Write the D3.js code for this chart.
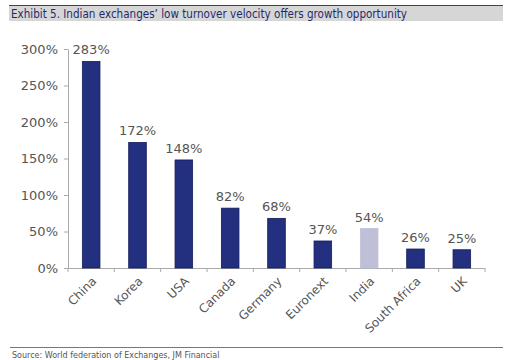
<!DOCTYPE html>
<html><head><meta charset="utf-8">
<script src="https://cdn.jsdelivr.net/npm/d3@7"></script>
<style>body{margin:0;background:#fff;} svg{display:block;}</style>
</head><body>
<script>
const title = "Exhibit 5. Indian exchanges’ low turnover velocity offers growth opportunity";
const source = "Source: World federation of Exchanges, JM Financial";
const categories = ["China","Korea","USA","Canada","Germany","Euronext","India","South Africa","UK"];
const values = [283,172,148,82,68,37,54,26,25];
const highlight = ["India"];
const yTicks = [0,50,100,150,200,250,300];

const W=517,H=360;
const svg=d3.select("body").append("svg").attr("width",W).attr("height",H);
const font="Tahoma, 'DejaVu Sans', sans-serif";

// title bar
svg.append("rect").attr("x",9).attr("y",5).attr("width",494).attr("height",16).attr("fill","#d6d6d6");
svg.append("line").attr("x1",9).attr("x2",503).attr("y1",5.5).attr("y2",5.5).attr("stroke","#3a3f7a").attr("stroke-width",1);
svg.append("text").attr("x",11).attr("y",17.5).text(title)
  .attr("textLength",396).attr("lengthAdjust","spacingAndGlyphs")
  .attr("font-family",font).attr("font-size",12).attr("fill","#1f2a6e");

const x=d3.scaleBand().domain(categories).range([68,485]).paddingInner(0.62).paddingOuter(0.31);
const y=d3.scaleLinear().domain([0,300]).range([268,49]);

// y axis
const ya=svg.append("g").attr("transform","translate(68,0)")
  .call(d3.axisLeft(y).tickValues(yTicks).tickFormat(d=>d+"%").tickSize(4).tickSizeOuter(0));
ya.select(".domain").attr("stroke","#aaa");
ya.selectAll(".tick line").attr("stroke","#aaa");
ya.selectAll("text").attr("font-family",font).attr("font-size",13).attr("fill","#555").attr("x",-10);

// x axis with ticks at boundaries
svg.append("line").attr("x1",68).attr("x2",485).attr("y1",268.5).attr("y2",268.5).attr("stroke","#aaa");
const step=x.step();
const bounds=d3.range(categories.length+1).map(i=>68+i*step);
svg.selectAll(".xt").data(bounds).join("line").attr("x1",d=>d).attr("x2",d=>d)
  .attr("y1",268).attr("y2",272).attr("stroke","#aaa");

// bars
svg.selectAll(".bar").data(categories).join("rect")
  .attr("x",d=>x(d)).attr("width",x.bandwidth())
  .attr("y",(d,i)=>y(values[i])).attr("height",(d,i)=>y(0)-y(values[i]))
  .attr("fill",d=>highlight.includes(d)?"#bfc0d7":"#22307f")
  .attr("stroke",d=>highlight.includes(d)?"#bfc0d7":"#141d5a").attr("stroke-width",0.8);

// value labels
svg.selectAll(".vl").data(categories).join("text")
  .attr("x",d=>x(d)+x.bandwidth()/2).attr("y",(d,i)=>y(values[i])-7)
  .attr("text-anchor","middle").text((d,i)=>values[i]+"%")
  .attr("font-family",font).attr("font-size",13).attr("fill","#555");

// category labels
svg.selectAll(".cl").data(categories).join("text")
  .attr("transform",d=>`translate(${x(d)+x.bandwidth()/2+6},${282}) rotate(-45)`)
  .attr("text-anchor","end").text(d=>d)
  .attr("font-family",font).attr("font-size",12).attr("fill","#555");

// bottom rule and source
svg.append("line").attr("x1",10).attr("x2",503).attr("y1",347.5).attr("y2",347.5).attr("stroke","#777");
svg.append("text").attr("x",12).attr("y",358).text(source)
  .attr("font-family",font).attr("font-size",8).attr("fill","#555");
</script>
</body></html>
